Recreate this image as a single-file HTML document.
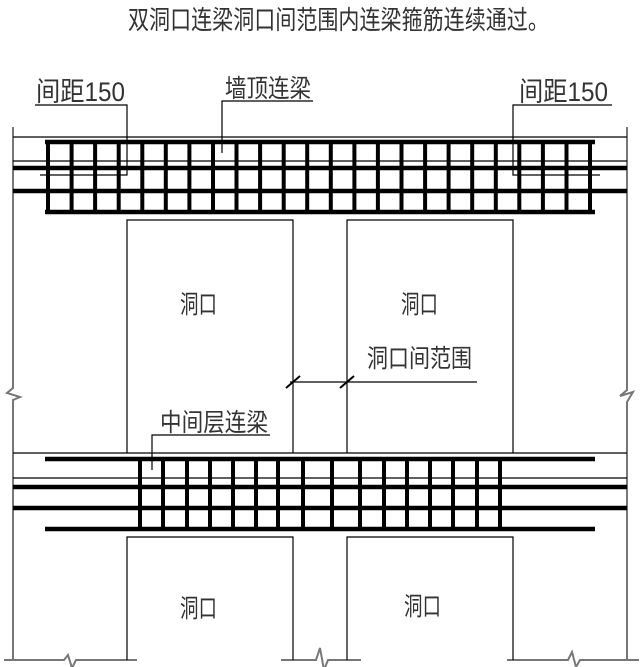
<!DOCTYPE html>
<html><head><meta charset="utf-8"><style>
html,body{margin:0;padding:0;background:#fff;}
svg{display:block;}
text{font-family:"Liberation Sans","Noto Sans CJK SC",sans-serif;fill:#333;}
</style></head><body>
<svg width="640" height="667" viewBox="0 0 640 667" xmlns="http://www.w3.org/2000/svg">
<text transform="translate(128,29) scale(0.81,1)" x="0" y="0" font-size="26">双洞口连梁洞口间范围内连梁箍筋连续通过。</text>

<!-- walls -->
<g stroke="#777" stroke-width="2" fill="none">
<polyline points="13,127 13,388 7,393 20,397 13,400 13,660"/>
<polyline points="627,127 627,390 620,396 633,392 627,402 627,660"/>
<polyline points="4,660 64,660 68,655 72,668 76,660 137,660"/>
<polyline points="507,660 568,660 572,652 576,667 580,660 639,660"/>
<polyline points="281,660 316,660 320,648 324,670 328,660 361,660"/>
</g>
<g stroke="#000" stroke-width="1.2" fill="none">
<line x1="13" y1="137" x2="627" y2="137"/>
<line x1="13" y1="161" x2="627" y2="161"/>
<line x1="13" y1="453" x2="627" y2="453"/>
<line x1="13" y1="478" x2="627" y2="478"/>
<polyline points="127,453 127,220 293,220 293,453"/>
<polyline points="347,453 347,220 513,220 513,453"/>
<polyline points="127,660 127,537 293,537 293,660"/>
<polyline points="347,660 347,537 513,537 513,660"/>
<polyline points="35,105 127,105 127,175 40,175"/>
<polyline points="612,105 513,105 513,175 600,175"/>
<polyline points="313,101 222,101 222,153"/>
<polyline points="270,435 152,435 152,470"/>
<line x1="290" y1="382" x2="477" y2="382"/>
</g>
<g stroke="#000" stroke-width="2">
<line x1="286" y1="388" x2="300" y2="376"/>
<line x1="340" y1="388" x2="354" y2="376"/>
</g>

<g stroke="#000" stroke-width="4.5">
<line x1="45" y1="142" x2="595" y2="142"/>
<line x1="45" y1="212" x2="595" y2="212"/>
<line x1="13" y1="168" x2="627" y2="168"/>
<line x1="13" y1="191" x2="627" y2="191"/>
</g>
<g stroke="#000" stroke-width="4.5">
<line x1="45" y1="459" x2="595" y2="459"/>
<line x1="45" y1="529" x2="595" y2="529"/>
<line x1="13" y1="487" x2="627" y2="487"/>
<line x1="13" y1="508" x2="627" y2="508"/>
</g>
<g stroke="#000" stroke-width="4">
<line x1="140" y1="459" x2="140" y2="529"/><line x1="163" y1="459" x2="163" y2="529"/>
<line x1="187" y1="459" x2="187" y2="529"/><line x1="210" y1="459" x2="210" y2="529"/>
<line x1="233" y1="459" x2="233" y2="529"/><line x1="256" y1="459" x2="256" y2="529"/>
<line x1="278" y1="459" x2="278" y2="529"/><line x1="303" y1="459" x2="303" y2="529"/>
<line x1="332" y1="459" x2="332" y2="529"/><line x1="360" y1="459" x2="360" y2="529"/>
<line x1="384" y1="459" x2="384" y2="529"/><line x1="407" y1="459" x2="407" y2="529"/>
<line x1="430" y1="459" x2="430" y2="529"/><line x1="453" y1="459" x2="453" y2="529"/>
<line x1="477" y1="459" x2="477" y2="529"/><line x1="500" y1="459" x2="500" y2="529"/>
</g>
<g stroke="#000" stroke-width="4">
<line x1="48" y1="142" x2="48" y2="212"/><line x1="71.6" y1="142" x2="71.6" y2="212"/>
<line x1="95.1" y1="142" x2="95.1" y2="212"/><line x1="118.7" y1="142" x2="118.7" y2="212"/>
<line x1="142.3" y1="142" x2="142.3" y2="212"/><line x1="165.8" y1="142" x2="165.8" y2="212"/>
<line x1="189.4" y1="142" x2="189.4" y2="212"/><line x1="213" y1="142" x2="213" y2="212"/>
<line x1="236.5" y1="142" x2="236.5" y2="212"/><line x1="260.1" y1="142" x2="260.1" y2="212"/>
<line x1="283.7" y1="142" x2="283.7" y2="212"/><line x1="307.2" y1="142" x2="307.2" y2="212"/>
<line x1="330.8" y1="142" x2="330.8" y2="212"/><line x1="354.4" y1="142" x2="354.4" y2="212"/>
<line x1="377.9" y1="142" x2="377.9" y2="212"/><line x1="401.5" y1="142" x2="401.5" y2="212"/>
<line x1="425.1" y1="142" x2="425.1" y2="212"/><line x1="448.6" y1="142" x2="448.6" y2="212"/>
<line x1="472.2" y1="142" x2="472.2" y2="212"/><line x1="495.8" y1="142" x2="495.8" y2="212"/>
<line x1="519.3" y1="142" x2="519.3" y2="212"/><line x1="542.9" y1="142" x2="542.9" y2="212"/>
<line x1="566.5" y1="142" x2="566.5" y2="212"/><line x1="590" y1="142" x2="590" y2="212"/>
</g>

<text x="36" y="101" font-size="27" textLength="89" lengthAdjust="spacingAndGlyphs">间距150</text>
<text x="519" y="101" font-size="27" textLength="89" lengthAdjust="spacingAndGlyphs">间距150</text>
<text x="225" y="97" font-size="25" textLength="86" lengthAdjust="spacingAndGlyphs">墙顶连梁</text>
<text x="160" y="431" font-size="25" textLength="108" lengthAdjust="spacingAndGlyphs">中间层连梁</text>
<text x="367" y="367" font-size="25" textLength="105" lengthAdjust="spacingAndGlyphs">洞口间范围</text>
<text x="180" y="313" font-size="25" textLength="37" lengthAdjust="spacingAndGlyphs">洞口</text>
<text x="401" y="313" font-size="25" textLength="37" lengthAdjust="spacingAndGlyphs">洞口</text>
<text x="180" y="617" font-size="25" textLength="37" lengthAdjust="spacingAndGlyphs">洞口</text>
<text x="404" y="615" font-size="25" textLength="37" lengthAdjust="spacingAndGlyphs">洞口</text>
</svg>
</body></html>
